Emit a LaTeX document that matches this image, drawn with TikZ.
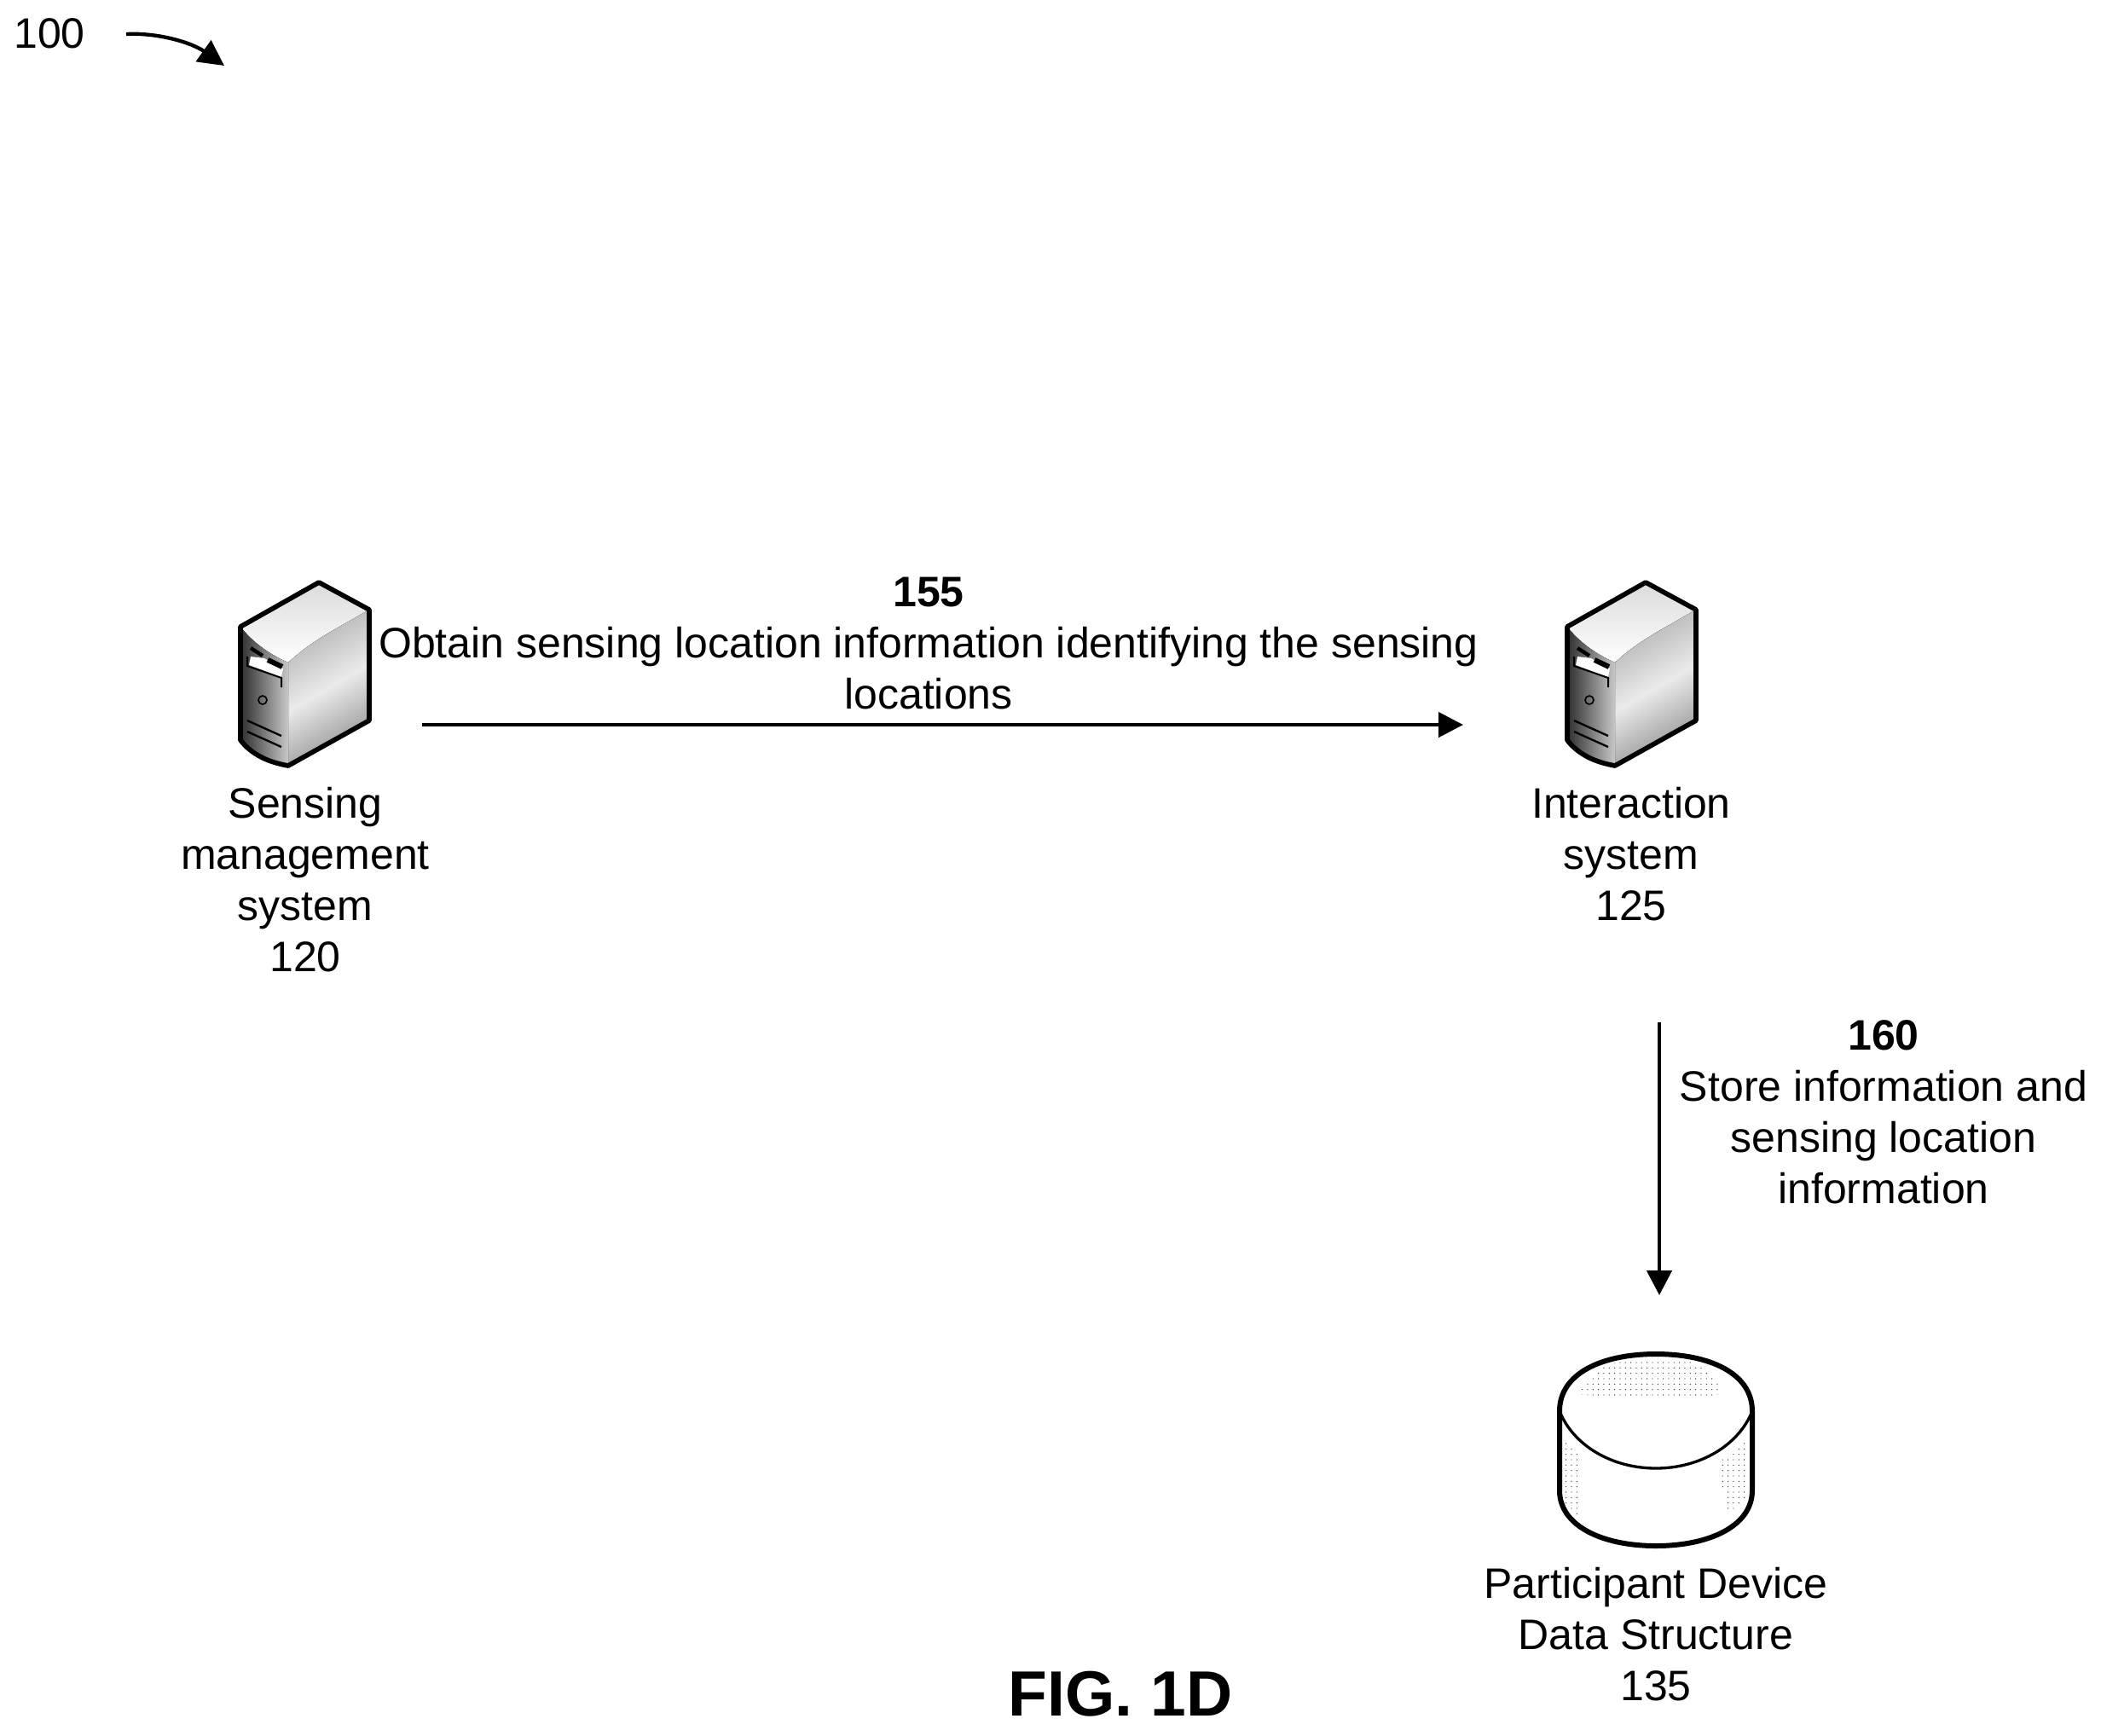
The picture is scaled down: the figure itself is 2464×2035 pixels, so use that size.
\documentclass[tikz,border=0pt]{standalone}
\usepackage{fontspec}
\setmainfont{Liberation Sans}
\usetikzlibrary{arrows.meta,patterns}

\pgfdeclarepatternformonly{finedots}{\pgfqpoint{-0.3pt}{-0.3pt}}{\pgfqpoint{0.3pt}{0.3pt}}{\pgfqpoint{1.9pt}{1.9pt}}{
  \pgfpathcircle{\pgfqpoint{0pt}{0pt}}{0.2pt}
  \pgfusepath{fill}
}

\tikzset{
  pics/servericon/.style={code={
    % top
    \fill[top color=black!14, bottom color=white] (2,53) -- (94,1) -- (153,33) .. controls (110,58) and (85,70) .. (58,95) .. controls (35,85) and (15,70) .. cycle;
    % side
    \fill[left color=black!30, right color=black!42, middle color=black!8, shading angle=30] (58,95) .. controls (85,70) and (110,58) .. (153,33) -- (153,163) -- (58,216) -- cycle;
    % front
    \fill[left color=black!82, right color=black!22] (2,53) .. controls (15,70) and (35,85) .. (58,95) -- (58,216) .. controls (35,212) and (15,203) .. (2,186) -- cycle;
    \fill[white] (14,88) -- (30,90) -- (52,102) -- (50,112) -- (12,98) -- cycle;
    \draw[line width=1.3pt] (14,78) -- (28,87);
    \draw[line width=1.8pt] (34,92) -- (51,100);
    \draw[line width=0.6pt] (10,88) -- (10,99) -- (50,113) -- (50,124);
    \draw[line width=0.5pt] (28,139) circle [radius=5];
    \draw[line width=0.7pt] (10,163) -- (50,181);
    \draw[line width=0.7pt] (10,176) -- (50,194);
    % outline
    \draw[line width=1.7pt, line join=round] (2,53) -- (94,1) -- (153,33) -- (153,163) -- (58,216) .. controls (35,212) and (15,203) .. (2,186) -- cycle;
  }}
}

\begin{document}
\begin{tikzpicture}[x=0.3pt, y=-0.3pt]
\tikzstyle{label}=[inner sep=0pt, align=center, font=\fontsize{15}{18}\selectfont]
\tikzstyle{drawstyle}=[line width=1.4pt, -{Triangle[length=8.7pt, width=8.7pt]}]
\tikzstyle{dotted area}=[pattern=finedots, pattern color=black!80]

\useasboundingbox (0,0) rectangle (2464,2035);

\node[label] (L100) at (58,39) {100};
\coordinate (A100a) at (148,40);
\coordinate (A100b) at (263,77);
\draw[line width=1.3pt, -{Triangle[length=9pt, width=9pt]}] (A100a) .. controls (185,38) and (225,50) .. (A100b);

\pic at (280,682) {servericon};
\node[label] (G120) at (358,1032) {Sensing\\management\\system\\120};
\pic at (1836,682) {servericon};
\node[label] (G125) at (1913,1002) {Interaction\\system\\125};

\coordinate (A155a) at (495,850);
\coordinate (A155b) at (1716,850);
\draw[drawstyle] (A155a) -- (A155b);
\node[label] (L155) at (1089,755) {\textbf{155}\\Obtain sensing location information identifying the sensing\\locations};

\coordinate (A160a) at (1946,1199);
\coordinate (A160b) at (1946,1519);
\draw[drawstyle] (A160a) -- (A160b);
\node[label] (L160) at (2209,1304) {\textbf{160}\\Store information and\\sensing location\\information};

% data structure
\fill[dotted area] (1848,1635) .. controls (1870,1600) and (1900,1592) .. (1942,1592) .. controls (1984,1592) and (2005,1600) .. (2022,1635) .. controls (1980,1640) and (1900,1640) .. cycle;
\fill[dotted area] (1832,1685) .. controls (1838,1695) and (1845,1700) .. (1850,1705) -- (1850,1778) .. controls (1840,1770) and (1832,1760) .. (1832,1748) -- cycle;
\fill[dotted area] (2050,1685) .. controls (2040,1698) and (2030,1705) .. (2015,1715) -- (2025,1775) .. controls (2040,1768) and (2050,1760) .. (2050,1748) -- cycle;
\draw[line width=1pt] (1829,1655) .. controls (1845,1695) and (1890,1722) .. (1942,1722) .. controls (1994,1722) and (2039,1695) .. (2055,1655);
\draw[line width=1.8pt] (1829,1748) -- (1829,1655) .. controls (1829,1610) and (1880,1588) .. (1942,1588) .. controls (2004,1588) and (2055,1610) .. (2055,1655) -- (2055,1748) .. controls (2055,1790) and (2004,1813) .. (1942,1813) .. controls (1880,1813) and (1829,1790) .. (1829,1748) -- cycle;
\node[label] (G135) at (1942,1917) {Participant Device\\Data Structure\\135};

\node[inner sep=0pt, font=\fontsize{22.5}{26}\selectfont\bfseries] (FIG) at (1314,1987) {FIG. 1D};
\end{tikzpicture}
\end{document}
